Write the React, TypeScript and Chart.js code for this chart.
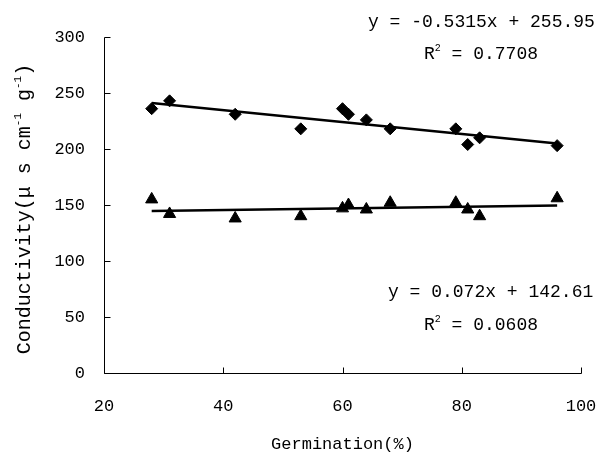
import React, { useEffect, useRef } from 'react';
import { Chart, registerables } from 'chart.js';

Chart.register(...registerables);

// ---- data ----
const germination = [28, 31, 42, 53, 60, 61, 64, 68, 79, 81, 83, 96];
const diamondSeries = [236, 243, 231, 218, 236, 231, 226, 218, 218, 204, 210, 203];
const triangleSeries = [155, 142, 138, 140, 147, 150, 146, 152, 152, 146, 140, 156];
const xTicks = [20, 40, 60, 80, 100];
const yTicks = [0, 50, 100, 150, 200, 250, 300];
const fitDiamond = { slope: -0.5315, intercept: 255.95 };
const fitTriangle = { slope: 0.072, intercept: 142.61 };
const eqDiamond = 'y = -0.5315x + 255.95';
const r2Diamond = '0.7708';
const eqTriangle = 'y = 0.072x + 142.61';
const r2Triangle = '0.0608';
const xTitle = 'Germination(%)';

const FONT = "'Liberation Mono', 'DejaVu Sans Mono', monospace";

function trend(fit: { slope: number; intercept: number }) {
  const x0 = Math.min(...germination);
  const x1 = Math.max(...germination);
  return [
    { x: x0, y: fit.slope * x0 + fit.intercept },
    { x: x1, y: fit.slope * x1 + fit.intercept },
  ];
}

function drawR2(ctx: CanvasRenderingContext2D, x: number, y: number, value: string) {
  ctx.textAlign = 'left';
  ctx.textBaseline = 'middle';
  ctx.font = `18px ${FONT}`;
  ctx.fillText('R', x, y);
  let cx = x + ctx.measureText('R').width;
  ctx.font = `10px ${FONT}`;
  ctx.fillText('2', cx, y - 6);
  cx += ctx.measureText('2').width;
  ctx.font = `18px ${FONT}`;
  ctx.fillText(' = ' + value, cx, y);
}

const overlay = {
  id: 'overlay',
  afterDraw(chart: any) {
    const ctx: CanvasRenderingContext2D = chart.ctx;
    const { left, right, top, bottom } = chart.chartArea;
    const xs = chart.scales.x;
    const ys = chart.scales.y;
    ctx.save();
    ctx.strokeStyle = '#000';
    ctx.lineWidth = 1;
    ctx.beginPath();
    const lx = Math.round(left) + 0.5;
    const by = Math.round(bottom) + 0.5;
    ctx.moveTo(lx, Math.round(top) + 0.5);
    ctx.lineTo(lx, by);
    ctx.lineTo(Math.round(right) + 0.5, by);
    for (const v of yTicks) {
      const py = Math.round(ys.getPixelForValue(v)) + 0.5;
      ctx.moveTo(lx, py);
      ctx.lineTo(lx + 6, py);
    }
    for (const v of xTicks) {
      const px = Math.round(xs.getPixelForValue(v)) + 0.5;
      ctx.moveTo(px, by);
      ctx.lineTo(px, by - 6);
    }
    ctx.stroke();

    ctx.fillStyle = '#000';
    // equations
    ctx.font = `18px ${FONT}`;
    ctx.textAlign = 'left';
    ctx.textBaseline = 'middle';
    ctx.fillText(eqDiamond, left + 264, top - 15);
    drawR2(ctx, left + 320, top + 17, r2Diamond);
    ctx.font = `18px ${FONT}`;
    ctx.fillText(eqTriangle, left + 284, top + 255);
    drawR2(ctx, left + 320, top + 288, r2Triangle);

    // x title
    ctx.font = `17px ${FONT}`;
    ctx.textAlign = 'center';
    ctx.textBaseline = 'middle';
    ctx.fillText(xTitle, (left + right) / 2, bottom + 71);

    // y title with superscripts
    const parts: [string, boolean][] = [
      ['Conductivity(μ s cm', false],
      ['-1', true],
      [' g', false],
      ['-1', true],
      [')', false],
    ];
    const big = `20px ${FONT}`;
    const small = `11px ${FONT}`;
    let total = 0;
    for (const [t, sup] of parts) {
      ctx.font = sup ? small : big;
      total += ctx.measureText(t).width;
    }
    ctx.translate(25, 209);
    ctx.rotate(-Math.PI / 2);
    ctx.textAlign = 'left';
    let cx = -total / 2;
    for (const [t, sup] of parts) {
      ctx.font = sup ? small : big;
      ctx.fillText(t, cx, sup ? -7 : 0);
      cx += ctx.measureText(t).width;
    }
    ctx.restore();
  },
};

export default function App() {
  const ref = useRef<HTMLCanvasElement | null>(null);
  useEffect(() => {
    if (!ref.current) return;
    const chart = new Chart(ref.current, {
      type: 'scatter',
      data: {
        datasets: [
          {
            data: germination.map((x, i) => ({ x, y: diamondSeries[i] })),
            pointStyle: 'rectRot',
            pointRadius: 6,
            backgroundColor: '#000',
            borderColor: '#000',
            borderWidth: 1,
            showLine: false,
          },
          {
            data: germination.map((x, i) => ({ x, y: triangleSeries[i] })),
            pointStyle: 'triangle',
            pointRadius: 7,
            backgroundColor: '#000',
            borderColor: '#000',
            borderWidth: 1,
            showLine: false,
          },
          {
            data: trend(fitDiamond),
            showLine: true,
            pointRadius: 0,
            borderColor: '#000',
            borderWidth: 2.5,
          },
          {
            data: trend(fitTriangle),
            showLine: true,
            pointRadius: 0,
            borderColor: '#000',
            borderWidth: 2.5,
          },
        ],
      },
      options: {
        responsive: false,
        animation: false,
        layout: { padding: { top: 37, right: 17, left: 0, bottom: 0 } },
        plugins: { legend: { display: false }, tooltip: { enabled: false } },
        scales: {
          x: {
            type: 'linear',
            min: 20,
            max: 100,
            grid: { display: false, drawTicks: false },
            border: { display: false },
            ticks: {
              stepSize: 20,
              padding: 23,
              color: '#000',
              font: { family: FONT, size: 17 },
              maxRotation: 0,
            },
            afterFit: (s: any) => {
              s.height = 84;
              s.paddingLeft = 0;
              s.paddingRight = 0;
            },
          },
          y: {
            min: 0,
            max: 300,
            grid: { display: false, drawTicks: false },
            border: { display: false },
            ticks: {
              stepSize: 50,
              padding: 19,
              color: '#000',
              font: { family: FONT, size: 17 },
            },
            afterFit: (s: any) => {
              s.width = 104;
              s.paddingTop = 0;
              s.paddingBottom = 0;
            },
          },
        },
      },
      plugins: [overlay],
    });
    return () => chart.destroy();
  }, []);
  return (
    <div style={{ position: 'absolute', left: 0, top: 0, width: 598, height: 457 }}>
      <canvas ref={ref} width={598} height={457} />
    </div>
  );
}
